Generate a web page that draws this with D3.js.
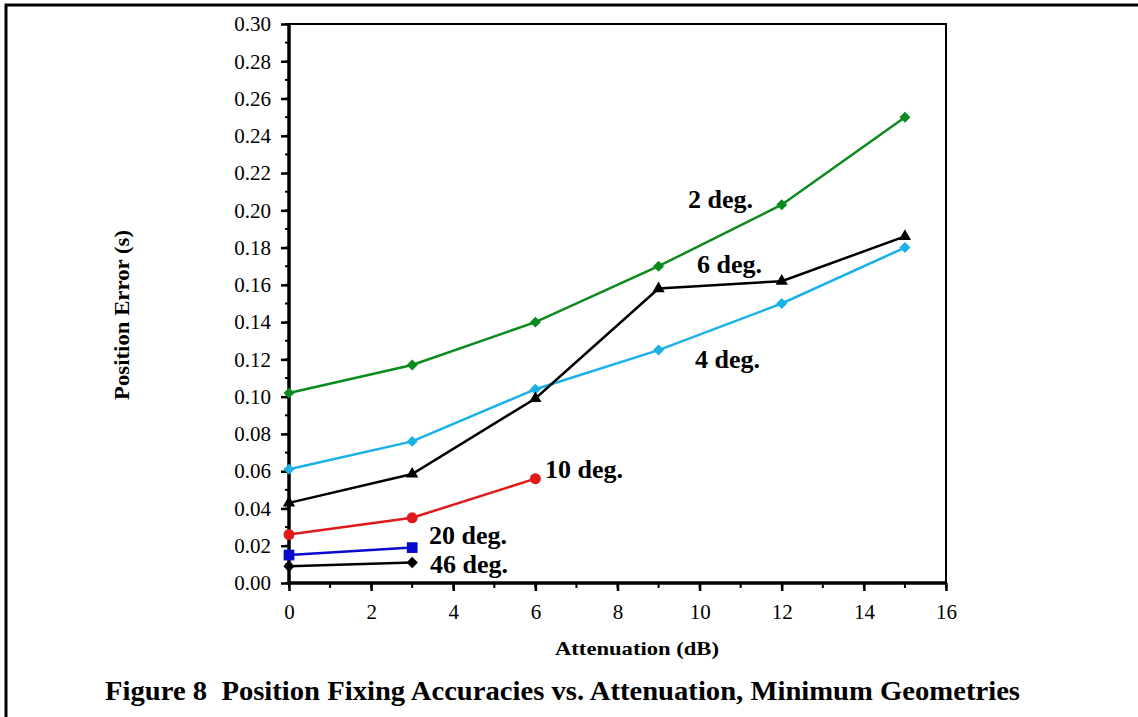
<!DOCTYPE html>
<html>
<head>
<meta charset="utf-8">
<script src="https://cdn.jsdelivr.net/npm/d3@7"></script>
<style>
  body { margin: 0; background: #fff; }
  svg text { font-family: "Liberation Serif", "Times New Roman", serif; }
</style>
</head>
<body>
<svg width="1138" height="717"></svg>
<script>
// data
var attenuation = [0, 3, 6, 9, 12, 15];
var deg2  = [0.102, 0.117, 0.140, 0.170, 0.203, 0.250];
var deg4  = [0.061, 0.076, 0.104, 0.125, 0.150, 0.180];
var deg6  = [0.043, 0.0585, 0.099, 0.158, 0.162, 0.186];
var deg10 = [0.026, 0.035, 0.056];
var deg20 = [0.015, 0.019];
var deg46 = [0.009, 0.011];

var xTicks = [0, 2, 4, 6, 8, 10, 12, 14, 16];
var yTicks = [0, 0.02, 0.04, 0.06, 0.08, 0.10, 0.12, 0.14, 0.16, 0.18, 0.20, 0.22, 0.24, 0.26, 0.28, 0.30];

var diamond = { draw: function(ctx, size) {
  var r = Math.sqrt(size / 2);
  ctx.moveTo(0, -r); ctx.lineTo(r, 0); ctx.lineTo(0, r); ctx.lineTo(-r, 0); ctx.closePath();
} };

var series = [
  { name: "2 deg.",  values: deg2,  color: "#0b8a1e", symbol: diamond,           size: 60,  lx: 688, ly: 208 },
  { name: "4 deg.",  values: deg4,  color: "#1ab0e8", symbol: diamond,           size: 60,  lx: 695, ly: 368 },
  { name: "6 deg.",  values: deg6,  color: "#000000", symbol: d3.symbolTriangle, size: 65,  lx: 697, ly: 273 },
  { name: "10 deg.", values: deg10, color: "#e01a1a", symbol: d3.symbolCircle,   size: 95,  lx: 545, ly: 478 },
  { name: "20 deg.", values: deg20, color: "#0a0acc", symbol: d3.symbolSquare,   size: 115, lx: 429, ly: 544 },
  { name: "46 deg.", values: deg46, color: "#000000", symbol: diamond,           size: 65,  lx: 430, ly: 573 }
];

var svg = d3.select("svg");

// outer frame (right and bottom run off the page)
svg.append("rect")
  .attr("x", 6).attr("y", 5)
  .attr("width", 1160).attr("height", 740)
  .attr("fill", "none").attr("stroke", "#000").attr("stroke-width", 3);

var x = d3.scaleLinear().domain([0, 16]).range([289, 946]);
var y = d3.scaleLinear().domain([0, 0.30]).range([583, 24]);

// plot box top/right
svg.append("path")
  .attr("d", "M" + x(0) + "," + y(0.30) + "H" + x(16) + "V" + y(0))
  .attr("fill", "none").attr("stroke", "#000").attr("stroke-width", 2);

// minor ticks
var g = svg.append("g");
g.selectAll(".ymin").data(d3.range(0, 31)).enter().append("line")
  .attr("x1", x(0) - 4).attr("x2", x(0))
  .attr("y1", function(d) { return y(d / 100); })
  .attr("y2", function(d) { return y(d / 100); })
  .attr("stroke", "#000").attr("stroke-width", 2);
g.selectAll(".xmin").data(d3.range(0, 17)).enter().append("line")
  .attr("x1", function(d) { return x(d); })
  .attr("x2", function(d) { return x(d); })
  .attr("y1", y(0)).attr("y2", y(0) + 5)
  .attr("stroke", "#000").attr("stroke-width", 2);

var yAxis = svg.append("g")
  .attr("transform", "translate(" + x(0) + ",0)")
  .call(d3.axisLeft(y).tickValues(yTicks).tickSize(8).tickPadding(10)
    .tickFormat(d3.format(".2f")));
var xAxis = svg.append("g")
  .attr("transform", "translate(0," + y(0) + ")")
  .call(d3.axisBottom(x).tickValues(xTicks).tickSize(8).tickPadding(13)
    .tickFormat(d3.format("d")));

[yAxis, xAxis].forEach(function(a) {
  a.select(".domain").attr("stroke-width", 3.5);
  a.selectAll(".tick line").attr("stroke-width", 2.5);
  a.selectAll("text")
    .style("font-family", "'Liberation Serif', serif")
    .style("font-size", "21px").attr("fill", "#000");
});
yAxis.select(".domain").attr("d", "M0," + (y(0.30) - 1) + "V" + (y(0) + 1.5));
xAxis.select(".domain").attr("d", "M" + (x(0) - 1.5) + ",0H" + (x(16) + 1));

// lines and markers
var line = d3.line()
  .x(function(d, i) { return x(attenuation[i]); })
  .y(function(d) { return y(d); });

series.forEach(function(s) {
  svg.append("path")
    .datum(s.values)
    .attr("d", line)
    .attr("fill", "none")
    .attr("stroke", s.color)
    .attr("stroke-width", 2.5);

  svg.selectAll(null).data(s.values).enter().append("path")
    .attr("d", d3.symbol().type(s.symbol).size(s.size))
    .attr("transform", function(d, i) { return "translate(" + x(attenuation[i]) + "," + y(d) + ")"; })
    .attr("fill", s.color);

  svg.append("text")
    .attr("x", s.lx).attr("y", s.ly)
    .attr("font-size", "26px").attr("font-weight", "bold")
    .text(s.name);
});

// axis titles and caption
svg.append("text")
  .attr("x", 555).attr("y", 655)
  .attr("font-size", "19px").attr("font-weight", "bold")
  .attr("textLength", 164).attr("lengthAdjust", "spacingAndGlyphs")
  .text("Attenuation (dB)");

svg.append("text")
  .attr("transform", "translate(129,400) rotate(-90)")
  .attr("font-size", "20px").attr("font-weight", "bold")
  .attr("textLength", 170).attr("lengthAdjust", "spacingAndGlyphs")
  .text("Position Error (s)");

svg.append("text")
  .attr("x", 105).attr("y", 700)
  .attr("font-size", "28px").attr("font-weight", "bold")
  .attr("textLength", 915).attr("lengthAdjust", "spacingAndGlyphs")
  .style("white-space", "pre")
  .text("Figure 8  Position Fixing Accuracies vs. Attenuation, Minimum Geometries");
</script>
</body>
</html>
